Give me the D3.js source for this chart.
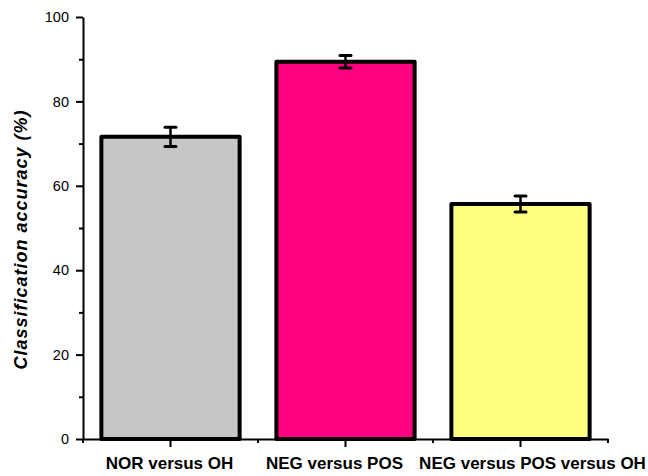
<!DOCTYPE html>
<html>
<head>
<meta charset="utf-8">
<script src="https://cdn.jsdelivr.net/npm/d3@7/dist/d3.min.js"></script>
<style>
  html, body { margin: 0; padding: 0; background: #fff; }
  svg { display: block; font-family: "Liberation Sans", Arial, sans-serif; }
</style>
</head>
<body>
<svg id="chart" width="648" height="476"></svg>
<script>
// Classification accuracy per comparison (mean and error)
const categories = ["NOR versus OH", "NEG versus POS", "NEG versus POS versus OH"];
const accuracy = [71.6, 89.4, 55.7];
const errors = [2.3, 1.5, 1.9];
const barColors = ["#c6c6c6", "#ff007f", "#ffff80"];
const yTicks = [0, 20, 40, 60, 80, 100];
const yMinorTicks = [10, 30, 50, 70, 90];

const svg = d3.select("#chart");
const plotLeft = 83, plotRight = 608, plotTop = 17, plotBottom = 439;

const x = d3.scaleBand().domain(categories).range([plotLeft, plotRight]).padding(0);
const y = d3.scaleLinear().domain([0, 100]).range([plotBottom, plotTop]);
const barW = x.bandwidth() * 0.79;

// Bars
svg.append("g").selectAll("rect")
  .data(categories)
  .join("rect")
  .attr("x", d => x(d) + (x.bandwidth() - barW) / 2)
  .attr("y", (d, i) => y(accuracy[i]))
  .attr("width", barW)
  .attr("height", (d, i) => y(0) - y(accuracy[i]))
  .attr("fill", (d, i) => barColors[i])
  .attr("stroke", "#000")
  .attr("stroke-width", 4)
  .attr("stroke-linejoin", "round");

// Error bars
const eb = svg.append("g").attr("stroke", "#000");
categories.forEach((c, i) => {
  const cx = x(c) + x.bandwidth() / 2;
  const hi = y(accuracy[i] + errors[i]), lo = y(accuracy[i] - errors[i]);
  eb.append("line").attr("x1", cx).attr("x2", cx).attr("y1", hi).attr("y2", lo).attr("stroke-width", 2.5);
  [hi, lo].forEach(v => eb.append("line")
    .attr("x1", cx - 5.5).attr("x2", cx + 5.5).attr("y1", v).attr("y2", v)
    .attr("stroke-width", 3).attr("stroke-linecap", "round"));
});

// Y axis
const yAxis = svg.append("g").attr("transform", `translate(${plotLeft},0)`)
  .call(d3.axisLeft(y).tickValues(yTicks).tickSize(7).tickPadding(7).tickSizeOuter(0));
yAxis.selectAll(".tick text").attr("font-size", 14.5).attr("fill", "#000")
  .attr("font-family", "'Liberation Sans', Arial, sans-serif");
svg.append("g").attr("transform", `translate(${plotLeft},0)`)
  .call(d3.axisLeft(y).tickValues(yMinorTicks).tickSize(4).tickFormat("").tickSizeOuter(0))
  .call(g => g.select(".domain").remove());

// X axis: major ticks at category centres, minor at band edges
svg.append("g").attr("transform", `translate(0,${plotBottom})`)
  .call(d3.axisBottom(x).tickSize(8).tickSizeOuter(0).tickFormat(""));
const edges = categories.map(c => x(c)).concat([x(categories[categories.length - 1]) + x.bandwidth()]);
svg.append("g").attr("stroke", "#000").attr("stroke-width", 2)
  .selectAll("line").data(edges).join("line")
  .attr("x1", d => d).attr("x2", d => d).attr("y1", plotBottom).attr("y2", plotBottom + 4);

svg.selectAll(".domain").attr("stroke", "#000").attr("stroke-width", 2);
svg.selectAll(".tick line").attr("stroke", "#000").attr("stroke-width", 2);

// Category labels
const nudge = [-1, -11, 12];
svg.append("g").selectAll("text")
  .data(categories)
  .join("text")
  .attr("x", (d, i) => x(d) + x.bandwidth() / 2 + nudge[i])
  .attr("y", 469)
  .attr("text-anchor", "middle")
  .attr("font-size", 17)
  .attr("font-weight", "bold")
  .attr("fill", "#000")
  .text(d => d);

// Y axis title
svg.append("text")
  .attr("transform", `translate(27,${(111 + 368) / 2}) rotate(-90)`)
  .attr("text-anchor", "middle")
  .attr("font-size", 18)
  .attr("letter-spacing", 1)
  .attr("font-weight", "bold")
  .attr("font-style", "italic")
  .attr("fill", "#000")
  .text("Classification accuracy (%)");
</script>
</body>
</html>
